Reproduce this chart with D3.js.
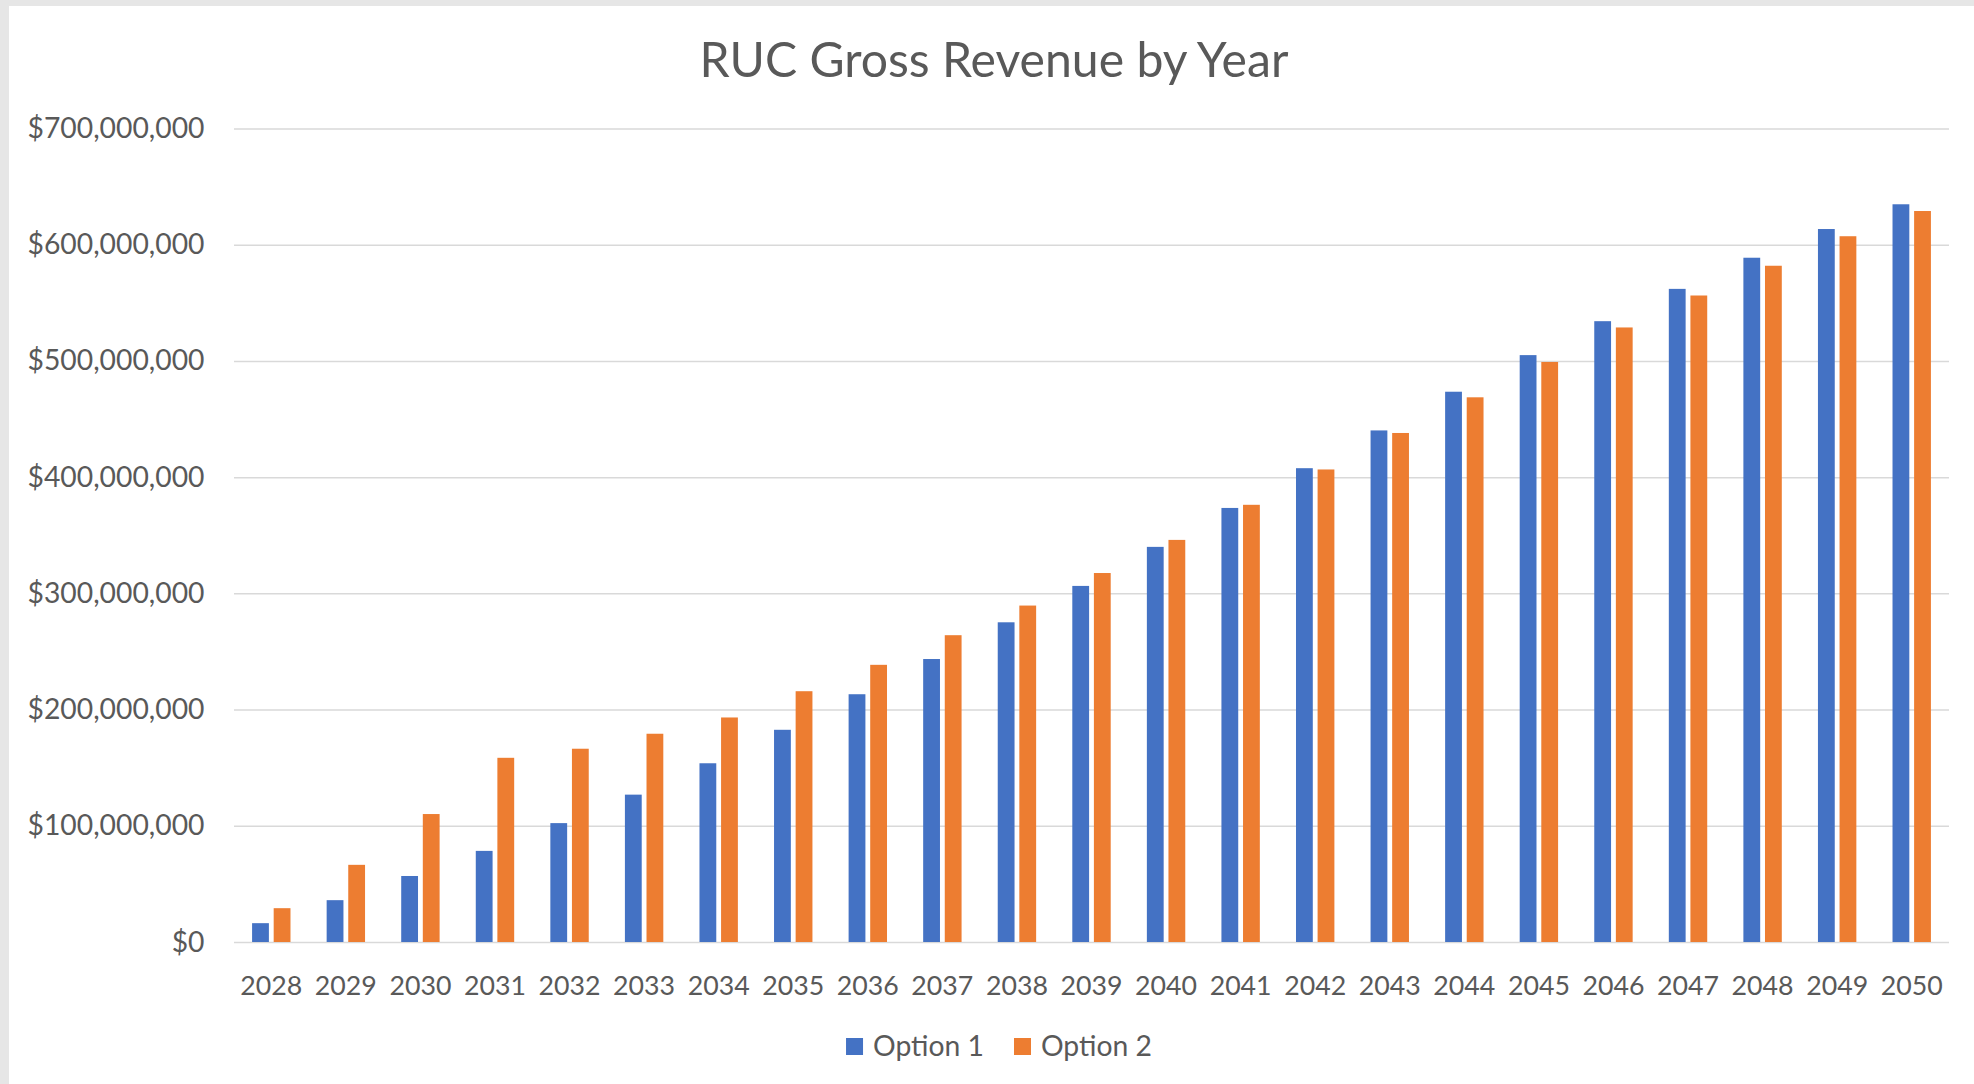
<!DOCTYPE html>
<html>
<head>
<meta charset="utf-8">
<script src="https://cdn.jsdelivr.net/npm/d3@7"></script>
<style>
  body { margin: 0; background: #e6e6e6; }
  svg { display: block; }
  text { font-family: Lato, "Open Sans", sans-serif; fill: #595959; }
</style>
</head>
<body>
<svg id="chart" width="1974" height="1084"></svg>
<script>
// values (dollars)
var years = ["2028", "2029", "2030", "2031", "2032", "2033", "2034", "2035", "2036", "2037", "2038", "2039",
             "2040", "2041", "2042", "2043", "2044", "2045", "2046", "2047", "2048", "2049", "2050"];
var option1 = [16.2e6, 36.0e6, 56.8e6, 78.4e6, 102.3e6, 126.8e6, 153.8e6, 182.6e6, 213.2e6, 243.5e6, 275.1e6, 306.4e6,
               340.0e6, 373.5e6, 407.7e6, 440.2e6, 473.5e6, 505.0e6, 534.2e6, 562.0e6, 588.8e6, 613.5e6, 634.8e6];
var option2 = [29.1e6, 66.4e6, 110.1e6, 158.5e6, 166.3e6, 179.2e6, 193.2e6, 215.8e6, 238.5e6, 264.0e6, 289.5e6, 317.5e6,
               346.0e6, 376.2e6, 406.6e6, 438.0e6, 468.7e6, 499.1e6, 528.8e6, 556.3e6, 581.9e6, 607.3e6, 629.0e6];
var seriesNames = ["Option 1", "Option 2"];
var seriesColors = ["#4472C4", "#ED7D31"];
var yTicks = [0, 100e6, 200e6, 300e6, 400e6, 500e6, 600e6, 700e6];
var chartTitle = "RUC Gross Revenue by Year";

var svg = d3.select("#chart");

// white chart area inside the grey frame
svg.append("rect")
    .attr("x", 9).attr("y", 6)
    .attr("width", 1974 - 9).attr("height", 1084 - 6)
    .attr("fill", "#ffffff");

// pick a font size so a sample string comes out at the wanted width
function fitSize(sample, targetWidth) {
    var t = svg.append("text").attr("font-size", 100).text(sample);
    var w = t.node().getComputedTextLength();
    t.remove();
    return 100 * targetWidth / w;
}

var titleSize = fitSize(chartTitle, 589);
var tickSize = fitSize("$700,000,000", 177);
var yearSize = fitSize("2028", 62);
var legendSize = fitSize("Option 1", 111);

var margin = {left: 234, right: 1949, top: 128.5, bottom: 942};

var y = d3.scaleLinear()
    .domain([0, 700e6])
    .range([margin.bottom, margin.top]);

var x0 = d3.scaleBand()
    .domain(years)
    .range([margin.left, margin.right])
    .paddingInner(0.485)
    .paddingOuter(0.2425);

var x1 = d3.scaleBand()
    .domain(seriesNames)
    .range([0, x0.bandwidth()])
    .paddingInner(0.222);

// title
svg.append("text")
    .attr("x", 994)
    .attr("y", 77)
    .attr("text-anchor", "middle")
    .attr("font-size", titleSize)
    .text(chartTitle);

// y axis with gridlines
var yAxis = svg.append("g")
    .attr("transform", "translate(" + margin.left + ",0)")
    .call(d3.axisLeft(y)
        .tickValues(yTicks)
        .tickSize(-(margin.right - margin.left))
        .tickPadding(29.5)
        .tickFormat(function(d) { return "$" + d3.format(",")(d); }));

yAxis.select(".domain").remove();
yAxis.selectAll(".tick line")
    .attr("stroke", "#d9d9d9")
    .attr("stroke-width", 1.5);
yAxis.selectAll(".tick text")
    .attr("font-size", tickSize)
    .attr("font-family", null)
    .attr("fill", "#595959");

// bars
var rows = years.map(function(yr, i) {
    return {year: yr, values: [option1[i], option2[i]]};
});

var groups = svg.append("g").selectAll("g")
    .data(rows)
    .enter().append("g")
    .attr("transform", function(d) { return "translate(" + x0(d.year) + ",0)"; });

groups.selectAll("rect")
    .data(function(d) {
        return d.values.map(function(v, k) { return {name: seriesNames[k], value: v, color: seriesColors[k]}; });
    })
    .enter().append("rect")
    .attr("x", function(d) { return x1(d.name); })
    .attr("y", function(d) { return y(d.value); })
    .attr("width", x1.bandwidth())
    .attr("height", function(d) { return y(0) - y(d.value); })
    .attr("fill", function(d) { return d.color; });

// x axis labels
var xAxis = svg.append("g")
    .attr("transform", "translate(0," + margin.bottom + ")")
    .call(d3.axisBottom(x0).tickSize(0));

xAxis.select(".domain").remove();
xAxis.selectAll(".tick text")
    .attr("y", 53)
    .attr("dy", null)
    .attr("font-size", yearSize)
    .attr("font-family", null)
    .attr("fill", "#595959");

// legend, centred under the chart
var sq = 17;
var legend = svg.append("g");
var items = legend.selectAll("g")
    .data(seriesNames)
    .enter().append("g");

items.append("rect")
    .attr("width", sq).attr("height", sq)
    .attr("y", 1038)
    .attr("fill", function(d, i) { return seriesColors[i]; });

items.append("text")
    .attr("x", sq + 10)
    .attr("y", 1056)
    .attr("font-size", legendSize)
    .text(function(d) { return d; });

var lx = 0;
var offsets = [];
items.each(function() {
    offsets.push(lx);
    lx += this.getBBox().width + 30;
});
lx -= 30;
var startX = 999 - lx / 2;
items.attr("transform", function(d, i) { return "translate(" + (startX + offsets[i]) + ",0)"; });
</script>
</body>
</html>
